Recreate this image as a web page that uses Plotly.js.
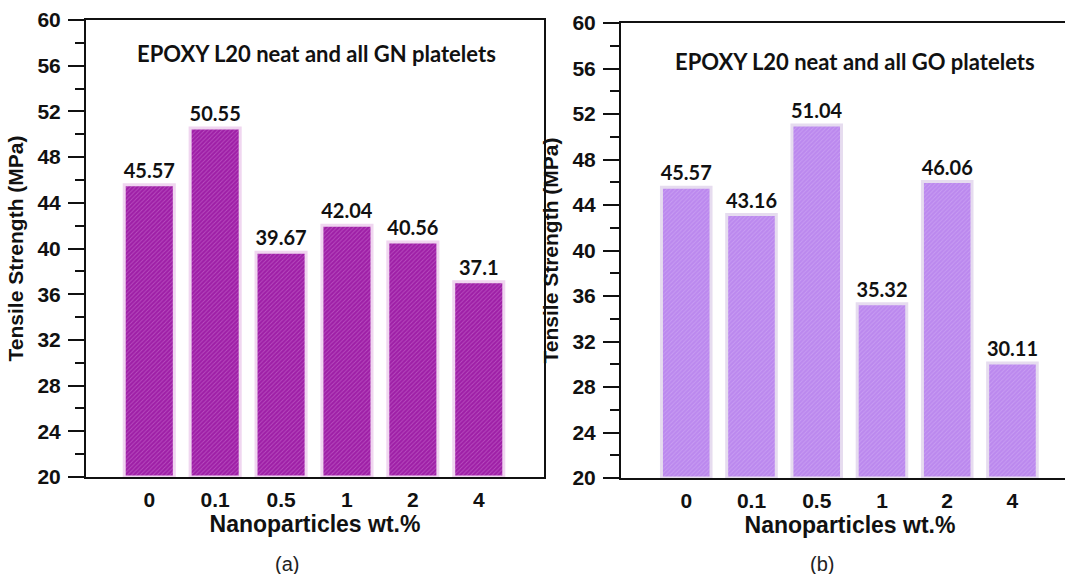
<!DOCTYPE html>
<html>
<head>
<meta charset="utf-8">
<script src="https://cdn.plot.ly/plotly-3.0.1.min.js"></script>
<style>
  html, body { margin: 0; padding: 0; overflow: hidden; background: #ffffff; }
  #chart { width: 1085px; height: 574px; }
</style>
</head>
<body>
<div id="chart"></div>
<script>
// Filler loading levels (wt.%) shared by both panels
const loadings = ['0', '0.1', '0.5', '1', '2', '4'];
// Tensile strength (MPa) of neat epoxy and graphene-nanoplatelet composites
const strengthGN = [45.57, 50.55, 39.67, 42.04, 40.56, 37.1];
// Tensile strength (MPa) of neat epoxy and graphene-oxide composites
const strengthGO = [45.57, 43.16, 51.04, 35.32, 46.06, 30.11];

const panelTitles = ['EPOXY L20 neat and all GN platelets', 'EPOXY L20 neat and all GO platelets'];
const panelCaptions = ['(a)', '(b)'];
const xTitleText = 'Nanoparticles wt.%';
const yTitleText = 'Tensile Strength (MPa)';

const Y_MIN = 20, Y_MAX = 60;
const W = 1085, H = 574;

const labelFont = { family: 'Lato, "Open Sans", sans-serif', size: 20, weight: 'bold', color: '#111111' };
const tickFont = { family: '"Liberation Sans", Arial, sans-serif', size: 21, weight: 'bold', color: '#111111' };
const yTitleFont = { family: '"Liberation Sans", Arial, sans-serif', size: 21, weight: 'bold', color: '#111111' };
const xTitleFont = { family: '"Liberation Sans", Arial, sans-serif', size: 23, weight: 'bold', color: '#111111' };
const panelTitleFont = { family: 'Lato, "Open Sans", sans-serif', size: 22, weight: 'bold', color: '#111111' };
const captionFont = { family: '"Liberation Sans", Arial, sans-serif', size: 20, color: '#222222' };

function barTrace(values, xa, ya, bg, fg, edge) {
  return {
    type: 'bar',
    x: loadings,
    y: values.map(v => v - Y_MIN),
    base: Y_MIN,
    xaxis: xa,
    yaxis: ya,
    text: values.map(v => String(v)),
    texttemplate: '%{text}',
    textposition: 'outside',
    textfont: labelFont,
    constraintext: 'none',
    cliponaxis: false,
    hoverinfo: 'skip',
    marker: {
      color: bg,
      line: { color: edge, width: 3 },
      pattern: { shape: '/', fillmode: 'replace', bgcolor: bg, fgcolor: fg, size: 3, solidity: 0.3 }
    }
  };
}

const traces = [
  barTrace(strengthGN, 'x', 'y', '#9e1fa6', '#b84ebf', '#f0d6f0'),
  barTrace(strengthGO, 'x2', 'y2', '#bb88ee', '#c99ef3', '#e6dcef')
];

function px(x) { return x / W; }
function py(y) { return (H - y) / H; }

function yAxis(domain, anchor) {
  return {
    domain: domain,
    anchor: anchor,
    range: [Y_MIN, Y_MAX],
    tick0: Y_MIN,
    dtick: 4,
    ticks: 'outside',
    ticklen: 16,
    tickwidth: 2,
    tickcolor: '#111111',
    minor: { dtick: 2, ticks: 'outside', ticklen: 9, tickwidth: 2, tickcolor: '#111111' },
    showline: true,
    linewidth: 2,
    linecolor: '#111111',
    mirror: true,
    showgrid: false,
    zeroline: false,
    tickfont: tickFont,
    ticklabelstandoff: 3,
    layer: 'below traces',
    title: { text: yTitleText, font: yTitleFont, standoff: 8 }
  };
}

function xAxis(domain, anchor, range) {
  return {
    domain: domain,
    anchor: anchor,
    type: 'category',
    range: range,
    ticks: '',
    showline: true,
    linewidth: 2,
    linecolor: '#111111',
    mirror: true,
    showgrid: false,
    zeroline: false,
    tickfont: tickFont,
    ticklabelstandoff: 3,
    layer: 'below traces',
    title: { text: xTitleText, font: xTitleFont, standoff: 2 }
  };
}

const layout = {
  width: W,
  height: H,
  margin: { l: 0, r: 0, t: 0, b: 0 },
  paper_bgcolor: '#ffffff',
  plot_bgcolor: '#ffffff',
  showlegend: false,
  bargap: 0.24,
  xaxis: xAxis([px(86), px(544)], 'y', [-0.96, 5.99]),
  yaxis: yAxis([py(477), py(20)], 'x'),
  xaxis2: xAxis([px(621), px(1079)], 'y2', [-1.0, 6.02]),
  yaxis2: yAxis([py(478), py(23)], 'x2'),
  annotations: [
    { text: panelTitles[0], xref: 'paper', yref: 'paper', x: px(316), y: py(53), xanchor: 'center', yanchor: 'middle', showarrow: false, font: panelTitleFont },
    { text: panelTitles[1], xref: 'paper', yref: 'paper', x: px(855), y: py(61), xanchor: 'center', yanchor: 'middle', showarrow: false, font: panelTitleFont },
    { text: panelCaptions[0], xref: 'paper', yref: 'paper', x: px(287), y: py(564), xanchor: 'center', yanchor: 'middle', showarrow: false, font: captionFont },
    { text: panelCaptions[1], xref: 'paper', yref: 'paper', x: px(822), y: py(564), xanchor: 'center', yanchor: 'middle', showarrow: false, font: captionFont }
  ]
};

Plotly.newPlot('chart', traces, layout, { staticPlot: true, displayModeBar: false });
</script>
</body>
</html>
